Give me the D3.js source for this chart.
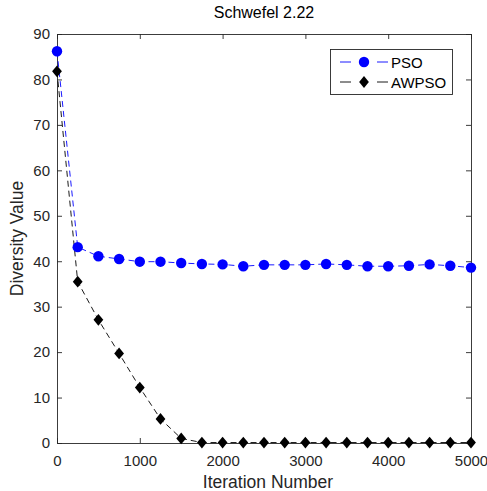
<!DOCTYPE html>
<html><head><meta charset="utf-8">
<script src="https://cdn.jsdelivr.net/npm/d3@7"></script>
<style>body{margin:0;background:#fff}svg{display:block}text{font-family:"Liberation Sans",Arial,sans-serif}</style>
</head><body>
<script>
const iterations = [0,250,500,750,1000,1250,1500,1750,2000,2250,2500,2750,3000,3250,3500,3750,4000,4250,4500,4750,5000];
const psoValues = [86.2,43.1,41.1,40.5,39.9,39.9,39.6,39.4,39.3,38.9,39.2,39.2,39.2,39.4,39.2,38.9,38.9,39.0,39.3,39.0,38.6];
const awpsoValues = [81.8,35.5,27.1,19.7,12.2,5.3,1.0,0.1,0.1,0.1,0.1,0.1,0.1,0.1,0.1,0.1,0.1,0.1,0.1,0.1,0.1];
const xTicks = [0,1000,2000,3000,4000,5000];
const yTicks = [0,10,20,30,40,50,60,70,80,90];
const title = "Schwefel 2.22", xLabel = "Iteration Number", yLabel = "Diversity Value";
const seriesNames = ["PSO","AWPSO"];

const W=487,H=491, L=57, R=471, T=34, B=443;
const axisColor="#262626";
const svg=d3.select("body").append("svg").attr("width",W).attr("height",H);
const x=d3.scaleLinear().domain([0,5000]).range([L,R]);
const y=d3.scaleLinear().domain([0,90]).range([B,T]);

const g=svg.append("g");
const fmt=d3.format("d");
const ax=g.append("g").attr("transform",`translate(0,${B})`).call(d3.axisBottom(x).tickValues(xTicks).tickFormat(fmt).tickSizeInner(-5).tickSizeOuter(0).tickPadding(12));
const axT=g.append("g").attr("transform",`translate(0,${T})`).call(d3.axisTop(x).tickValues(xTicks).tickSizeInner(-5).tickSizeOuter(0).tickFormat(""));
const ay=g.append("g").attr("transform",`translate(${L},0)`).call(d3.axisLeft(y).tickValues(yTicks).tickFormat(fmt).tickSizeInner(-5).tickSizeOuter(0).tickPadding(7));
const ayR=g.append("g").attr("transform",`translate(${R},0)`).call(d3.axisRight(y).tickValues(yTicks).tickSizeInner(-5).tickSizeOuter(0).tickFormat(""));
[ax,axT,ay,ayR].forEach(a=>{a.selectAll("path,line").attr("stroke",axisColor).attr("stroke-width",0.9);a.selectAll("text").attr("fill",axisColor).attr("font-size",15).attr("font-family",'"Liberation Sans",Arial,sans-serif');});

const line=(vals)=>d3.line().x((d,i)=>x(iterations[i])).y(d=>y(d))(vals);
const plot=g.append("g");
plot.append("path").attr("d",line(psoValues)).attr("fill","none").attr("stroke","#0000ff").attr("stroke-width",0.9).attr("stroke-dasharray","6,4");
plot.append("path").attr("d",line(awpsoValues)).attr("fill","none").attr("stroke","#000").attr("stroke-width",0.9).attr("stroke-dasharray","6,4");
plot.selectAll("circle.p").data(psoValues).join("circle").attr("cx",(d,i)=>x(iterations[i])).attr("cy",d=>y(d)).attr("r",5.2).attr("fill","#0000ff");
const diamond=(cx,cy,s)=>`M${cx},${cy-s*1.2}L${cx+s},${cy}L${cx},${cy+s*1.2}L${cx-s},${cy}Z`;
plot.selectAll("path.d").data(awpsoValues).join("path").attr("d",(d,i)=>diamond(x(iterations[i]),y(d),4.9)).attr("fill","#000");

svg.append("text").attr("x",(L+R)/2).attr("y",18).attr("text-anchor","middle").attr("font-size",16).attr("fill","#000").text(title);
svg.append("text").attr("x",(L+R)/2+4).attr("y",488).attr("text-anchor","middle").attr("font-size",17.5).attr("fill",axisColor).text(xLabel);
svg.append("text").attr("transform",`translate(23,${(T+B)/2}) rotate(-90)`).attr("text-anchor","middle").attr("font-size",17.5).attr("fill",axisColor).text(yLabel);

const lg=svg.append("g");
lg.append("rect").attr("x",330.5).attr("y",49.5).attr("width",122).attr("height",45).attr("fill","#fff").attr("stroke",axisColor).attr("stroke-width",0.9);
const items=[{name:seriesNames[0],color:"#0000ff",m:"c",yy:62},{name:seriesNames[1],color:"#000",m:"d",yy:82}];
items.forEach(it=>{
  [[340,351],[377,388]].forEach(([a,b])=>lg.append("line").attr("x1",a).attr("x2",b).attr("y1",it.yy).attr("y2",it.yy).attr("stroke",it.color).attr("stroke-width",0.9));
  if(it.m==="c") lg.append("circle").attr("cx",364).attr("cy",it.yy).attr("r",5.2).attr("fill",it.color);
  else lg.append("path").attr("d",diamond(364,it.yy,4.9)).attr("fill",it.color);
  lg.append("text").attr("x",391).attr("y",it.yy+5.5).attr("font-size",15).attr("fill","#000").text(it.name);
});
</script>
</body></html>
